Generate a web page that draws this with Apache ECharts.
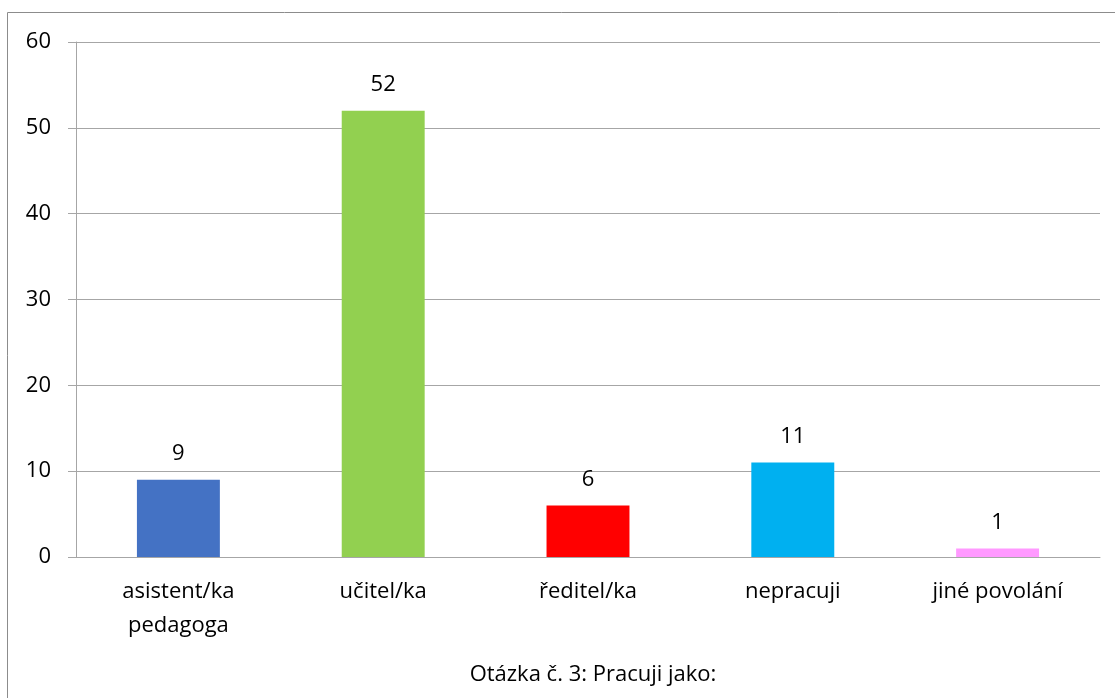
<!DOCTYPE html>
<html>
<head>
<meta charset="utf-8">
<script src="https://cdn.jsdelivr.net/npm/echarts@6/dist/echarts.min.js"></script>
<style>
  html, body { margin: 0; padding: 0; background: #fff; }
  #chart { width: 1115px; height: 698px; }
</style>
</head>
<body>
<div id="chart"></div>
<script>
// Occupation categories and respondent counts
const categories = ['asistent/ka\npedagoga', 'učitel/ka', 'ředitel/ka', 'nepracuji', 'jiné povolání'];
const counts = [9, 52, 6, 11, 1];
const barColors = ['#4472C4', '#92D050', '#FF0000', '#00B0F0', '#FF99FF'];
const yTicks = { min: 0, max: 60, interval: 10 };
const chartTitle = 'Otázka č. 3: Pracuji jako:';

const FONT = 'Open Sans';
const FS = 22;
const chart = echarts.init(document.getElementById('chart'));

chart.setOption({
  animation: false,
  textStyle: { fontFamily: FONT },
  title: {
    text: chartTitle,
    left: 588,
    top: 659,
    textAlign: 'center',
    textStyle: { fontFamily: FONT, fontSize: FS, fontWeight: 'normal', color: '#000' }
  },
  graphic: [{
    type: 'rect',
    shape: { x: 7.5, y: 12.5, width: 1120, height: 700 },
    style: { fill: 'none', stroke: '#8c8c8c', lineWidth: 1 },
    silent: true
  }],
  grid: { left: 76, right: 15, top: 42, bottom: 141 },
  xAxis: {
    type: 'category',
    data: categories,
    axisLine: { lineStyle: { color: '#a6a6a6', width: 1 } },
    axisTick: { show: false },
    axisLabel: { color: '#000', fontSize: FS, fontFamily: FONT, margin: 18, lineHeight: 34 }
  },
  yAxis: {
    type: 'value',
    min: yTicks.min,
    max: yTicks.max,
    interval: yTicks.interval,
    axisLine: { show: true, lineStyle: { color: '#a6a6a6', width: 1 } },
    axisTick: { show: true, length: 8, lineStyle: { color: '#a6a6a6' } },
    splitLine: { lineStyle: { color: '#a6a6a6', width: 1 } },
    axisLabel: { color: '#000', fontSize: FS, fontFamily: FONT, margin: 25 }
  },
  series: [{
    type: 'bar',
    barWidth: '40.5%',
    data: counts.map((v, i) => ({ value: v, itemStyle: { color: barColors[i] } })),
    label: {
      show: true,
      position: 'top',
      distance: 15,
      color: '#000',
      fontSize: FS,
      fontFamily: FONT
    }
  }]
});
</script>
</body>
</html>
